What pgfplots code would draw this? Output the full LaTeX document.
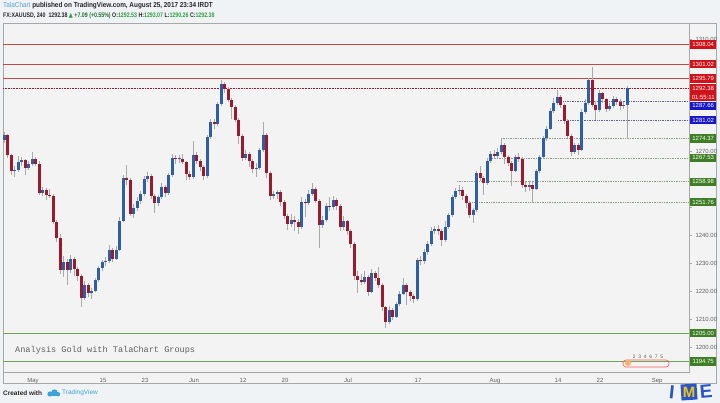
\documentclass[border=0pt]{standalone}
\usepackage{pgfplots}
\pgfplotsset{compat=1.18}
\usepackage{pgfplotstable}
\usepackage{fontspec}
\setmainfont{Liberation Sans}
\setmonofont{Liberation Mono}
\newfontfamily\dejavu{DejaVu Sans}
\definecolor{upc}{HTML}{2E5FA6}
\definecolor{dnc}{HTML}{9C1A2E}
\definecolor{wick}{HTML}{A9A9A9}
\definecolor{pagebg}{HTML}{F0F3F6}
\definecolor{plotbg}{HTML}{F3F3F3}
\definecolor{framec}{HTML}{A8A8A8}
\definecolor{resred}{HTML}{C44848}
\definecolor{boxred}{HTML}{D0121B}
\definecolor{boxblue}{HTML}{1818C8}
\definecolor{boxgreen}{HTML}{3E7F25}
\definecolor{supgreen}{HTML}{6FA35A}
\definecolor{dotgreen}{HTML}{8F9C84}
\definecolor{dotblue}{HTML}{5A64A0}
\definecolor{tvblue}{HTML}{3DA4DB}
\definecolor{talab}{HTML}{5AA2C8}
\definecolor{valgreen}{HTML}{2E9E3E}
\definecolor{labgray}{HTML}{606060}
\definecolor{imeblue}{HTML}{2A55C8}
\definecolor{imeyel}{HTML}{F2C418}

\pgfplotstableread{
k o h l c
0 1274.0 1276.8 1273.0 1275.7
1 1275.7 1276.2 1267.5 1268.4
2 1268.4 1269.0 1261.5 1262.8
3 1262.8 1264.5 1260.8 1263.3
4 1263.3 1268.3 1262.6 1266.2
5 1266.2 1268.0 1264.8 1266.7
6 1266.7 1267.2 1261.5 1264.0
7 1264.0 1266.4 1263.2 1265.5
8 1265.5 1269.8 1264.8 1267.1
9 1267.1 1268.0 1264.5 1265.3
10 1265.3 1266.5 1254.2 1255.0
11 1255.0 1257.2 1253.8 1255.9
12 1255.9 1256.8 1252.6 1254.4
13 1254.4 1256.5 1253.2 1253.9
14 1253.9 1254.6 1243.8 1244.5
15 1244.5 1245.2 1237.5 1239.0
16 1239.0 1240.2 1226.2 1227.5
17 1227.5 1232.6 1225.0 1230.5
18 1230.5 1231.5 1222.3 1227.5
19 1227.5 1233.0 1226.5 1231.3
20 1231.3 1232.0 1225.5 1227.8
21 1227.8 1228.5 1223.6 1225.3
22 1225.3 1226.0 1214.3 1217.5
23 1217.5 1223.6 1216.8 1222.3
24 1222.3 1223.0 1218.0 1219.2
25 1219.2 1221.2 1217.2 1220.1
26 1220.1 1224.8 1219.5 1223.9
27 1223.9 1229.0 1223.2 1228.2
28 1228.2 1231.2 1227.0 1230.3
29 1230.3 1232.2 1228.8 1230.8
30 1230.8 1236.4 1230.0 1234.5
31 1234.5 1235.2 1230.4 1231.6
32 1231.6 1236.2 1231.0 1234.8
33 1234.8 1246.3 1234.2 1245.0
34 1245.0 1261.5 1244.5 1260.4
35 1260.4 1265.0 1257.8 1259.7
36 1259.7 1260.3 1246.8 1247.5
37 1247.5 1251.0 1246.2 1249.8
38 1249.8 1253.5 1248.6 1252.3
39 1252.3 1255.8 1251.0 1254.6
40 1254.6 1261.0 1253.8 1260.0
41 1260.0 1262.5 1258.8 1261.2
42 1261.2 1261.8 1252.8 1253.9
43 1253.9 1254.5 1248.0 1251.4
44 1251.4 1254.3 1250.2 1253.5
45 1253.5 1258.6 1252.8 1257.0
46 1257.0 1257.8 1253.5 1255.0
47 1255.0 1262.0 1254.3 1261.3
48 1261.3 1269.0 1260.8 1267.5
49 1267.5 1268.5 1265.5 1267.0
50 1267.0 1268.5 1265.6 1267.3
51 1267.3 1268.8 1265.2 1266.0
52 1266.0 1266.6 1259.5 1261.7
53 1261.7 1263.0 1259.8 1260.7
54 1260.7 1273.5 1260.0 1268.6
55 1268.6 1269.5 1265.2 1266.5
56 1266.5 1267.2 1262.8 1264.3
57 1264.3 1265.0 1259.6 1261.2
58 1261.2 1275.8 1260.5 1275.0
59 1275.0 1281.3 1274.3 1280.2
60 1280.2 1281.5 1278.0 1279.5
61 1279.5 1287.6 1278.8 1286.8
62 1286.8 1295.4 1286.0 1293.8
63 1293.8 1294.8 1290.8 1292.1
64 1292.1 1293.0 1287.4 1288.2
65 1288.2 1289.0 1281.5 1285.7
66 1285.7 1286.3 1280.2 1281.0
67 1281.0 1281.8 1272.5 1275.5
68 1275.5 1276.2 1266.5 1267.5
69 1267.5 1270.5 1266.8 1269.0
70 1269.0 1269.8 1264.2 1266.5
71 1266.5 1267.2 1262.0 1263.5
72 1263.5 1265.6 1260.8 1264.0
73 1264.0 1271.0 1263.3 1270.2
74 1270.2 1280.4 1269.5 1275.7
75 1275.7 1276.3 1260.2 1262.2
76 1262.2 1262.8 1252.6 1253.8
77 1253.8 1255.8 1252.8 1254.5
78 1254.5 1256.2 1253.0 1255.2
79 1255.2 1255.9 1250.5 1251.8
80 1251.8 1252.4 1245.6 1246.8
81 1246.8 1247.5 1241.8 1244.0
82 1244.0 1247.4 1243.0 1245.5
83 1245.5 1246.8 1241.6 1244.5
84 1244.5 1245.8 1240.5 1242.9
85 1242.9 1253.4 1242.2 1251.9
86 1251.9 1253.0 1246.4 1251.3
87 1251.3 1256.0 1250.6 1254.7
88 1254.7 1258.6 1254.0 1256.4
89 1256.4 1257.2 1251.5 1252.3
90 1252.3 1253.0 1235.4 1243.4
91 1243.4 1246.8 1242.5 1245.5
92 1245.5 1251.5 1244.8 1250.2
93 1250.2 1253.6 1248.4 1249.9
94 1249.9 1253.8 1249.0 1252.6
95 1252.6 1253.2 1249.0 1250.3
96 1250.3 1251.2 1241.5 1242.7
97 1242.7 1246.8 1241.8 1244.9
98 1244.9 1245.5 1240.0 1241.3
99 1241.3 1242.0 1235.5 1236.8
100 1236.8 1237.4 1223.8 1225.2
101 1225.2 1227.0 1219.3 1224.0
102 1224.0 1226.2 1222.2 1223.2
103 1223.2 1227.2 1222.5 1225.0
104 1225.0 1225.6 1218.2 1219.8
105 1219.8 1228.0 1219.2 1226.4
106 1226.4 1227.2 1223.5 1224.6
107 1224.6 1228.5 1221.2 1222.2
108 1222.2 1222.8 1212.8 1214.2
109 1214.2 1214.8 1206.8 1209.0
110 1209.0 1214.6 1208.2 1213.2
111 1213.2 1214.0 1209.6 1210.8
112 1210.8 1216.2 1210.2 1215.5
113 1215.5 1220.0 1214.8 1219.0
114 1219.0 1224.8 1218.4 1222.3
115 1222.3 1222.9 1215.0 1219.5
116 1219.5 1220.5 1216.6 1218.1
117 1218.1 1219.0 1215.6 1217.2
118 1217.2 1231.8 1216.6 1231.0
119 1231.0 1232.4 1229.3 1230.6
120 1230.6 1235.0 1229.8 1234.1
121 1234.1 1237.8 1233.0 1236.7
122 1236.7 1243.0 1236.0 1241.6
123 1241.6 1243.2 1240.2 1242.2
124 1242.2 1243.5 1240.0 1241.4
125 1241.4 1242.0 1236.0 1238.2
126 1238.2 1245.0 1237.5 1242.9
127 1242.9 1248.0 1242.2 1247.0
128 1247.0 1254.4 1246.5 1253.6
129 1253.6 1256.8 1252.8 1255.6
130 1255.6 1258.0 1254.2 1256.2
131 1256.2 1257.0 1252.6 1254.0
132 1254.0 1254.8 1249.8 1251.3
133 1251.3 1252.0 1246.0 1247.2
134 1247.2 1249.8 1244.3 1248.9
135 1248.9 1262.8 1248.2 1262.0
136 1262.0 1264.6 1259.2 1260.5
137 1260.5 1261.2 1254.3 1258.6
138 1258.6 1267.4 1258.0 1266.6
139 1266.6 1270.0 1265.8 1268.9
140 1268.9 1270.2 1267.0 1268.3
141 1268.3 1271.0 1267.6 1269.6
142 1269.6 1274.4 1268.8 1272.1
143 1272.1 1272.8 1265.5 1268.0
144 1268.0 1268.6 1264.5 1265.7
145 1265.7 1266.3 1257.5 1263.0
146 1263.0 1268.7 1262.4 1267.9
147 1267.9 1269.4 1266.2 1267.3
148 1267.3 1267.9 1256.8 1257.9
149 1257.9 1259.0 1255.4 1257.0
150 1257.0 1259.2 1255.8 1258.0
151 1258.0 1258.8 1251.8 1256.6
152 1256.6 1263.6 1256.0 1262.8
153 1262.8 1268.6 1262.1 1267.8
154 1267.8 1275.4 1267.2 1274.5
155 1274.5 1279.0 1273.6 1278.0
156 1278.0 1285.2 1277.4 1284.2
157 1284.2 1289.0 1283.4 1287.3
158 1287.3 1291.8 1286.5 1289.2
159 1289.2 1290.0 1285.2 1286.4
160 1286.4 1287.0 1279.6 1280.8
161 1280.8 1281.5 1274.6 1275.5
162 1275.5 1276.2 1268.2 1269.8
163 1269.8 1273.0 1269.0 1272.0
164 1272.0 1273.0 1268.5 1270.4
165 1270.4 1285.0 1270.0 1284.0
166 1284.0 1288.4 1283.2 1287.3
167 1287.3 1296.2 1286.5 1295.4
168 1295.4 1300.0 1285.6 1286.4
169 1286.4 1287.8 1281.2 1284.6
170 1284.6 1291.8 1284.0 1290.6
171 1290.6 1291.2 1287.2 1288.4
172 1288.4 1289.0 1284.0 1285.1
173 1285.1 1287.2 1284.4 1286.0
174 1286.0 1289.6 1285.4 1288.4
175 1288.4 1289.4 1286.4 1287.6
176 1287.6 1288.4 1284.8 1286.0
177 1286.0 1287.6 1285.0 1286.6
178 1286.6 1293.1 1286.0 1292.4
}\candles

\tikzset{pbox/.style={inner sep=0pt, minimum width=26bp, minimum height=8.6bp, text=white, font=\fontsize{6}{6}\selectfont, anchor=west}}

\begin{document}
\begin{tikzpicture}
\fill[pagebg] (0,0) rectangle (720bp,403bp);
\fill[plotbg] (3bp,20bp) rectangle (716bp,380bp);
\draw[framec, line width=0.6bp] (3bp,20bp) rectangle (716bp,380bp);
\begin{axis}[
  at={(3bp,31bp)}, anchor=south west,
  scale only axis, width=686bp, height=349bp,
  xmin=-0.29, xmax=195.7, ymin=1191.07, ymax=1315.71,
  axis line style={framec, line width=0.6bp},
  xtick={8.29,28.29,40.29,54.29,68.29,80.29,98.29,118.29,140.29,158.29,170.29,186.6},
  xticklabels={May,15,23,Jun,12,20,Jul,17,Aug,14,22,Sep},
  xtick style={draw=none},
  ytick={1200,1210,1220,1230,1240,1250,1260,1270,1280,1290,1300,1310},
  yticklabels={1200.00,1210.00,1220.00,1230.00,1240.00,,,1270.00,,,,1310.00},
  yticklabel pos=right, ytick pos=right,
  tick align=outside, major tick length=3bp,
  ytick style={framec, line width=0.5bp},
  tick label style={font=\fontsize{6}{7}\selectfont, text=labgray},
  axis background/.style={fill=plotbg},
]
% resistance / support levels
\addplot[resred, line width=0.8bp, forget plot] coordinates {(-0.29,1308.04)(195.7,1308.04)};
\addplot[resred, line width=0.8bp, forget plot] coordinates {(-0.29,1301.02)(195.7,1301.02)};
\addplot[resred, line width=0.8bp, forget plot] coordinates {(-0.29,1295.79)(195.7,1295.79)};
\addplot[dnc, line width=0.6bp, densely dotted, forget plot] coordinates {(-0.29,1292.38)(195.7,1292.38)};
\addplot[dotblue, line width=0.7bp, densely dotted, forget plot] coordinates {(158.3,1287.66)(195.7,1287.66)};
\addplot[dotblue, line width=0.7bp, densely dotted, forget plot] coordinates {(158.3,1281.02)(195.7,1281.02)};
\addplot[dotgreen, line width=0.7bp, densely dotted, forget plot] coordinates {(142,1274.37)(195.7,1274.37)};
\addplot[dotgreen, line width=0.7bp, densely dotted, forget plot] coordinates {(138.9,1267.53)(195.7,1267.53)};
\addplot[dotgreen, line width=0.7bp, densely dotted, forget plot] coordinates {(129.4,1258.98)(195.7,1258.98)};
\addplot[dotgreen, line width=0.7bp, densely dotted, forget plot] coordinates {(132.3,1251.76)(195.7,1251.76)};
\addplot[supgreen, line width=0.8bp, forget plot] coordinates {(-0.29,1205.00)(195.7,1205.00)};
\addplot[supgreen, line width=0.8bp, forget plot] coordinates {(-0.29,1194.75)(195.7,1194.75)};
\addplot[wick, line width=0.6bp, forget plot] coordinates {(178,1292.4)(178,1274.37)};
% wicks
\addplot[draw=none, mark=none, forget plot, error bars/.cd, y dir=plus, y explicit, error mark=none,
  error bar style={draw=wick, line width=0.6bp}]
  table[x=k, y=l, y error plus expr={\thisrow{h}-\thisrow{l}}] {\candles};
% up bodies
\addplot[draw=none, mark=none, forget plot, restrict expr to domain={\thisrow{c}-\thisrow{o}}{0:1000},
  unbounded coords=jump,
  error bars/.cd, y dir=plus, y explicit, error mark=none,
  error bar style={draw=upc, line width=3bp}]
  table[x=k, y=o, y error plus expr={max(\thisrow{c}-\thisrow{o},0.35)}] {\candles};
% down bodies
\addplot[draw=none, mark=none, forget plot, restrict expr to domain={\thisrow{c}-\thisrow{o}}{-1000:-0.001},
  unbounded coords=jump,
  error bars/.cd, y dir=plus, y explicit, error mark=none,
  error bar style={draw=dnc, line width=3bp}]
  table[x=k, y=c, y error plus expr={\thisrow{o}-\thisrow{c}}] {\candles};
\coordinate (r1) at (axis cs:195.7,1308.04);
\coordinate (r2) at (axis cs:195.7,1301.02);
\coordinate (r3) at (axis cs:195.7,1295.79);
\coordinate (r4) at (axis cs:195.7,1292.38);
\coordinate (b2) at (axis cs:195.7,1281.02);
\coordinate (g1) at (axis cs:195.7,1274.37);
\coordinate (g2) at (axis cs:195.7,1267.53);
\coordinate (g3) at (axis cs:195.7,1258.98);
\coordinate (g4) at (axis cs:195.7,1251.76);
\coordinate (g5) at (axis cs:195.7,1205.00);
\coordinate (g6) at (axis cs:195.7,1194.75);
\end{axis}
% price label boxes
\node[pbox, fill=boxred] at ([xshift=1bp]r1) {1308.04};
\node[pbox, fill=boxred] at ([xshift=1bp]r2) {1301.02};
\node[pbox, fill=boxred] at ([xshift=1bp]r3) {1295.79};
\node[pbox, fill=boxred] at ([xshift=1bp]r4) {1292.38};
\node[pbox, fill=boxred] at ([xshift=1bp,yshift=-8.8bp]r4) {01:55:11};
\node[pbox, fill=boxblue] at ([xshift=1bp,yshift=-17.6bp]r4) {1287.66};
\node[pbox, fill=boxblue] at ([xshift=1bp]b2) {1281.02};
\node[pbox, fill=boxgreen] at ([xshift=1bp]g1) {1274.37};
\node[pbox, fill=boxgreen] at ([xshift=1bp]g2) {1267.53};
\node[pbox, fill=boxgreen] at ([xshift=1bp]g3) {1258.98};
\node[pbox, fill=boxgreen] at ([xshift=1bp]g4) {1251.76};
\node[pbox, fill=boxgreen] at ([xshift=1bp]g5) {1205.00};
\node[pbox, fill=boxgreen] at ([xshift=1bp]g6) {1194.75};
% annotation text
\node[anchor=west, inner sep=0pt, text=labgray, font=\ttfamily\fontsize{8.6}{9}\selectfont] at (15bp,53bp) {Analysis Gold with TalaChart Groups};
% event flags
\draw[red!65, line width=0.6bp, rounded corners=3bp] (623bp,36bp) rectangle (669bp,43bp);
\fill[orange!60] (628bp,40bp) circle (3bp);
\node[inner sep=0pt, text=labgray, font=\fontsize{5}{5}\selectfont] at (648bp,46.5bp) {2\ \ 3\ \ 4\ \ 6\ \ 7\ \ 5};
% header
\node[anchor=west, inner sep=0pt, font=\fontsize{7.2}{8}\selectfont] at (3bp,397bp) {\scalebox{0.89}[1]{\textcolor{talab}{TalaChart} \textbf{\textcolor{black!85}{published on TradingView.com, August 25, 2017 23:34 IRDT}}}};
\node[anchor=west, inner sep=0pt, font=\fontsize{6.6}{8}\selectfont] at (3bp,387bp) {\scalebox{0.8}[1]{\textbf{\textcolor{black!85}{FX:XAUUSD, 240\ \ 1292.38} {\dejavu\textcolor{valgreen}{▲}} \textcolor{valgreen!70!black}{+7.09 (+0.55\%)} \textcolor{black!85}{O:}\textcolor{valgreen}{1292.53} \textcolor{black!85}{H:}\textcolor{valgreen}{1293.07} \textcolor{black!85}{L:}\textcolor{valgreen}{1290.26} \textcolor{black!85}{C:}\textcolor{valgreen}{1292.38}}}};
% footer
\node[anchor=west, inner sep=0pt, font=\bfseries\fontsize{6.5}{7}\selectfont, text=black!85] at (3bp,10bp) {Created with};
\fill[tvblue] (50bp,9bp) circle (2.6bp) (54.5bp,10.5bp) circle (3.2bp) (58bp,8.8bp) circle (2.2bp);
\fill[tvblue] (50bp,6.6bp) rectangle (58bp,9bp);
\node[anchor=west, inner sep=0pt, font=\fontsize{6.5}{7}\selectfont, text=tvblue] at (62bp,10bp) {TradingView};
% IME logo
\node[inner sep=0pt, font=\bfseries\fontsize{19}{19}\selectfont, text=imeblue, rotate=-6] at (672bp,11bp) {I};
\fill[imeblue, rotate around={4:(689bp,11bp)}] (681bp,3bp) rectangle (697bp,19bp);
\node[inner sep=0pt, font=\bfseries\fontsize{15}{15}\selectfont, text=imeyel] at (689bp,11bp) {M};
\node[inner sep=0pt, font=\bfseries\fontsize{19}{19}\selectfont, text=imeblue, rotate=5] at (706bp,12bp) {E};
\pgfresetboundingbox
\path[use as bounding box] (0,0) rectangle (720bp,403bp);
\end{tikzpicture}
\end{document}
